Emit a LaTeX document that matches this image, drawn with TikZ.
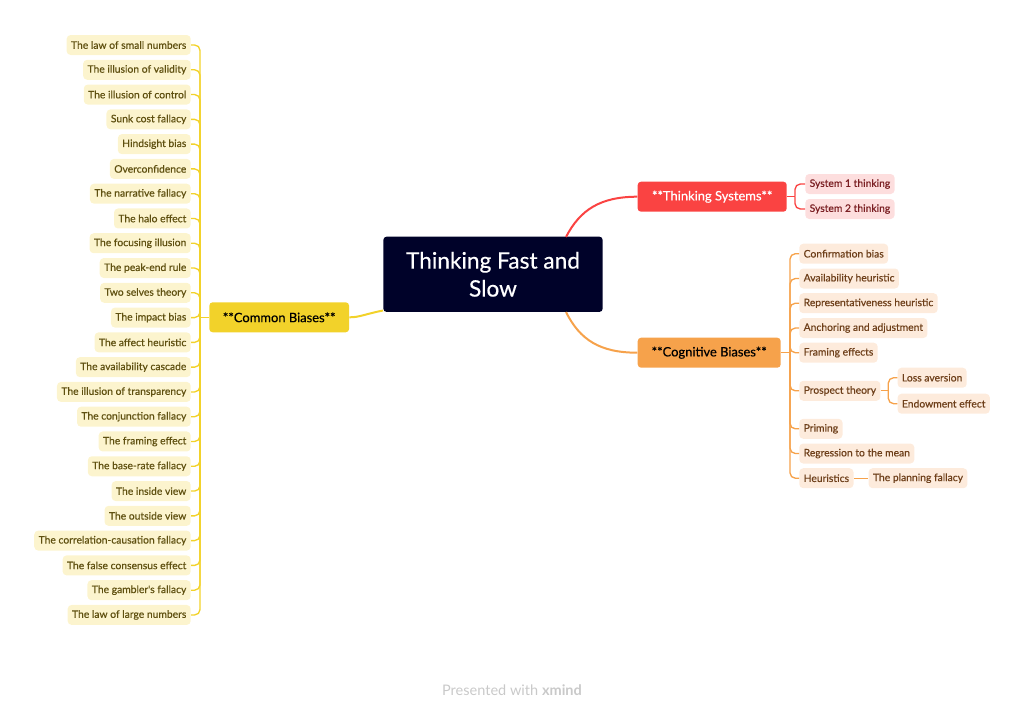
\documentclass[tikz,border=0pt]{standalone}
\usepackage{fontspec}
\setmainfont{Lato}
\newfontfamily\medfont{Lato}[FakeBold=0.5]
\definecolor{navy}{HTML}{000229}
\definecolor{ybr}{HTML}{F2D22A}
\definecolor{yfill}{HTML}{FCF4CE}
\definecolor{ytext}{HTML}{5F5010}
\definecolor{rbr}{HTML}{FA4342}
\definecolor{rfill}{HTML}{FDDEDE}
\definecolor{rtext}{HTML}{7A1E22}
\definecolor{obr}{HTML}{F6A24B}
\definecolor{ofill}{HTML}{FDEBDC}
\definecolor{otext}{HTML}{6E3F1A}
\definecolor{foot}{HTML}{C9C9C9}
\begin{document}
\begin{tikzpicture}[x=0.75pt,y=-0.75pt,
  leaf/.style={rounded corners=3pt, inner xsep=3.3pt, inner ysep=0pt, minimum height=15pt,
    font=\medfont\fontsize{7.75}{9}\selectfont},
  leafY/.style={leaf, fill=yfill, text=ytext, anchor=east},
  leafO/.style={leaf, fill=ofill, text=otext, anchor=west},
  leafR/.style={leaf, fill=rfill, text=rtext, anchor=west},
  branch/.style={rounded corners=2.5pt, minimum height=22.5pt, inner ysep=0pt,
    font=\medfont\fontsize{9.7}{11}\selectfont},
  ycon/.style={draw=ybr, line width=1pt, rounded corners=4pt},
  ocon/.style={draw=obr, line width=1pt, rounded corners=4pt},
  rcon/.style={draw=rbr, line width=1pt, rounded corners=4pt},
]
\useasboundingbox (0,0) rectangle (1023,708);

% central
\node[fill=navy, text=white, rounded corners=2.5pt, minimum width=164.5pt, minimum height=56.5pt,
  align=center, font=\medfont\fontsize{17}{21}\selectfont] (root) at (493,274.3) {Thinking Fast and\\Slow};

% branches
\node[branch, fill=ybr, text=black, minimum width=104.8pt] (cb) at (279.2,317.3) {**Common Biases**};
\node[branch, fill=rbr, text=white, minimum width=111.8pt] (ts) at (712.2,196.7) {**Thinking Systems**};
\node[branch, fill=obr, text=black, minimum width=107.2pt] (cg) at (709.2,352.7) {**Cognitive Biases**};

% main curves
\draw[draw=ybr, line width=1.5pt] (root.west |- 0,310.5) .. controls (365,314) and (360,317.3) .. (cb.east);
\draw[draw=rbr, line width=1.5pt] (566,237) .. controls (580,210) and (600,196.7) .. (ts.west);
\draw[draw=obr, line width=1.5pt] (566,312) .. controls (580,340) and (600,352.7) .. (cg.west);

% left leaves
\coordinate (cbj) at (200,317.3);
\foreach \t [count=\i] in {The law of small numbers, The illusion of validity, The illusion of control,
  Sunk cost fallacy, Hindsight bias, Overconfidence, The narrative fallacy, The halo effect,
  The focusing illusion, The peak-end rule, Two selves theory, The impact bias, The affect heuristic,
  The availability cascade, The illusion of transparency, The conjunction fallacy, The framing effect,
  The base-rate fallacy, The inside view, The outside view, The correlation-causation fallacy,
  The false consensus effect, The gambler's fallacy, The law of large numbers} {
  \node[leafY] (L\i) at (191,{45+24.78*(\i-1)}) {\t};
  \draw[ycon] (L\i.east) -| (cbj);
}
\draw[ycon] (cbj) -- (cb.west);

% thinking systems leaves
\coordinate (tsj) at (795,196.7);
\node[leafR] (s1) at (805,184) {System 1 thinking};
\node[leafR] (s2) at (805,209) {System 2 thinking};
\draw[rcon] (s1.west) -| (tsj);
\draw[rcon] (s2.west) -| (tsj);
\draw[rcon] (ts.east) -- (tsj);

% cognitive leaves
\coordinate (cgj) at (790,352.7);
\node[leafO] (c1) at (799,253.7) {Confirmation bias};
\node[leafO] (c2) at (799,278.5) {Availability heuristic};
\node[leafO] (c3) at (799,303.2) {Representativeness heuristic};
\node[leafO] (c4) at (799,328) {Anchoring and adjustment};
\node[leafO] (c5) at (799,352.7) {Framing effects};
\node[leafO] (c6) at (799,390.8) {Prospect theory};
\node[leafO] (c7) at (799,428.8) {Priming};
\node[leafO] (c8) at (799,453.5) {Regression to the mean};
\node[leafO] (c9) at (799,478.2) {Heuristics};
\foreach \i in {1,...,9} { \draw[ocon] (c\i.west) -| (cgj); }
\draw[ocon] (cg.east) -- (cgj);

% prospect theory subs
\coordinate (ptj) at (888.3,390.8);
\node[leafO] (p1) at (897.3,377.7) {Loss aversion};
\node[leafO] (p2) at (897.3,403.7) {Endowment effect};
\draw[ocon] (p1.west) -| (ptj);
\draw[ocon] (p2.west) -| (ptj);
\draw[ocon] (c6.east) -- (ptj);

% heuristics sub
\node[leafO] (h1) at (868.3,478.2) {The planning fallacy};
\draw[ocon] (c9.east) -- (h1.west);

% footer
\node[text=foot, font=\fontsize{10.9}{13}\selectfont] (foot) at (512,690) {Presented with \textbf{xmind}};
\end{tikzpicture}
\end{document}
